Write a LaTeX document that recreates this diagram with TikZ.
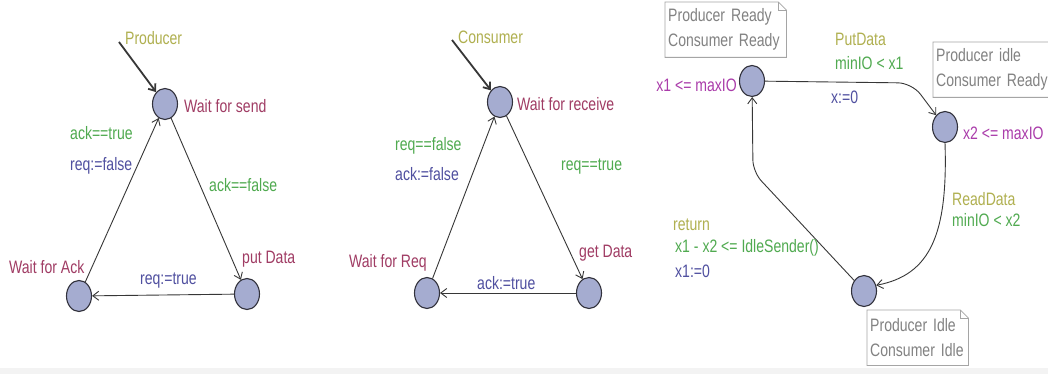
\documentclass[tikz,border=0pt]{standalone}
\usepackage{fontspec}
\setmainfont{Liberation Sans}[FakeStretch=0.78]
\usetikzlibrary{arrows.meta,shapes.geometric}
\definecolor{olivec}{RGB}{176,176,80}
\definecolor{maroonc}{RGB}{160,60,100}
\definecolor{greenc}{RGB}{80,170,80}
\definecolor{bluec}{RGB}{80,80,160}
\definecolor{magc}{RGB}{170,60,170}
\definecolor{nodefill}{RGB}{165,172,208}
\definecolor{nodeborder}{RGB}{50,50,60}
\definecolor{edgecol}{RGB}{55,55,55}
\definecolor{noteborder}{RGB}{165,165,165}
\definecolor{notetext}{RGB}{130,130,130}
\definecolor{bandc}{RGB}{243,243,243}
\begin{document}
\begin{tikzpicture}[x=1pt,y=-1pt,
  locnode/.style={ellipse, draw=nodeborder, fill=nodefill, line width=1.1pt,
    minimum width=25pt, minimum height=31pt, inner sep=0pt},
  lbl/.style={inner sep=0pt, anchor=west, font=\fontsize{18}{20}\selectfont},
  locname/.style={lbl, text=maroonc},
  guard/.style={lbl, text=greenc},
  upd/.style={lbl, text=bluec},
  sync/.style={lbl, text=olivec},
  inv/.style={lbl, text=magc},
  edge/.style={draw=edgecol, line width=0.9pt, -{Straight Barb[length=6pt,width=9pt]}},
  initedge/.style={edge, line width=1.8pt},
  notebox/.style={inner xsep=3pt, inner ysep=0pt, minimum height=55pt, align=left,
    text=notetext, anchor=north west, font=\fontsize{18}{25}\selectfont},
  noteline/.style={draw=noteborder, line width=0.8pt}
]
\clip (0,0) rectangle (1048,374);
\fill[white] (0,0) rectangle (1048,374);
\fill[bandc] (0,368) rectangle (1048,374);

% ---------- Producer ----------
\node[locnode] (ws) at (165,104) {};
\node[locnode] (pd) at (247,294) {};
\node[locnode] (wa) at (79,296) {};
\coordinate (p0) at (119,42);
\draw[initedge] (p0) -- (ws);
\draw[edge] (wa) -- (ws);
\draw[edge] (ws) -- (pd);
\draw[edge] (pd) -- (wa);
\node[sync] (lprod) at (125,38) {Producer};
\node[locname] (lws) at (184,106) {Wait for send};
\node[guard] (lg1) at (70,133) {ack==true};
\node[upd] (lu1) at (70,166) {req:=false};
\node[guard] (lg2) at (209,185) {ack==false};
\node[locname] (lpd) at (242,259) {put Data};
\node[locname] (lwa) at (9,267) {Wait for Ack};
\node[upd] (lu2) at (140,281) {req:=true};

% ---------- Consumer ----------
\node[locnode] (wr) at (500,102) {};
\node[locnode] (gd) at (589,293) {};
\node[locnode] (wq) at (427,293) {};
\coordinate (c0) at (452,40);
\draw[initedge] (c0) -- (wr);
\draw[edge] (wq) -- (wr);
\draw[edge] (wr) -- (gd);
\draw[edge] (gd) -- (wq);
\node[sync] (lcons) at (458,37) {Consumer};
\node[locname] (lwr) at (517,104) {Wait for receive};
\node[guard] (lg3) at (395,146) {req==false};
\node[upd] (lu3) at (395,174) {ack:=false};
\node[guard] (lg4) at (561,167) {req==true};
\node[locname] (lgd) at (579,253) {get Data};
\node[locname] (lwq) at (349,263) {Wait for Req};
\node[upd] (lu4) at (477,283) {ack:=true};

% ---------- Timed automaton ----------
\node[locnode] (A) at (752,81) {};
\node[locnode] (B) at (945,127) {};
\node[locnode] (C) at (864,291) {};
\coordinate (ab) at (912,83);
\coordinate (ca) at (753,172);
\draw[edge, rounded corners=14pt] (A) -- (ab) -- (B);
\draw[edge] (B.south) .. controls (948,235) and (930,275) .. (C.25);
\draw[edge, rounded corners=12pt] (C) -- (ca) -- (A);

\node[inv, anchor=east] (linvA) at (737,85) {x1 <= maxIO};
\node[inv] (linvB) at (963,133) {x2 <= maxIO};
\node[sync] (lput) at (835,39) {PutData};
\node[guard] (lg5) at (835,63) {minIO < x1};
\node[upd] (lu5) at (831,97) {x:=0};
\node[sync] (lread) at (952,199) {ReadData};
\node[guard] (lg6) at (952,220) {minIO < x2};
\node[sync] (lret) at (673,225) {return};
\node[guard] (lg7) at (675,248) {x1 - x2 <= IdleSender()};
\node[upd] (lu7) at (675,271) {x1:=0};

% notes
\node[notebox, text width=115pt] (n1) at (665,2) {Producer Ready\\Consumer Ready};
\node[notebox, text width=124pt] (n2) at (933,42) {Producer idle\\Consumer Ready};
\node[notebox, text width=95pt] (n3) at (867,310) {Producer Idle\\Consumer Idle};
\foreach \n in {n1,n2,n3}{
  \draw[noteline] (\n.north west) -- ([xshift=-8pt]\n.north east) -- ([yshift=-8pt]\n.north east)
    -- (\n.south east) -- (\n.south west) -- cycle;
  \draw[noteline] ([xshift=-8pt]\n.north east) -- ([xshift=-8pt,yshift=-8pt]\n.north east)
    -- ([yshift=-8pt]\n.north east);
}
\end{tikzpicture}
\end{document}
